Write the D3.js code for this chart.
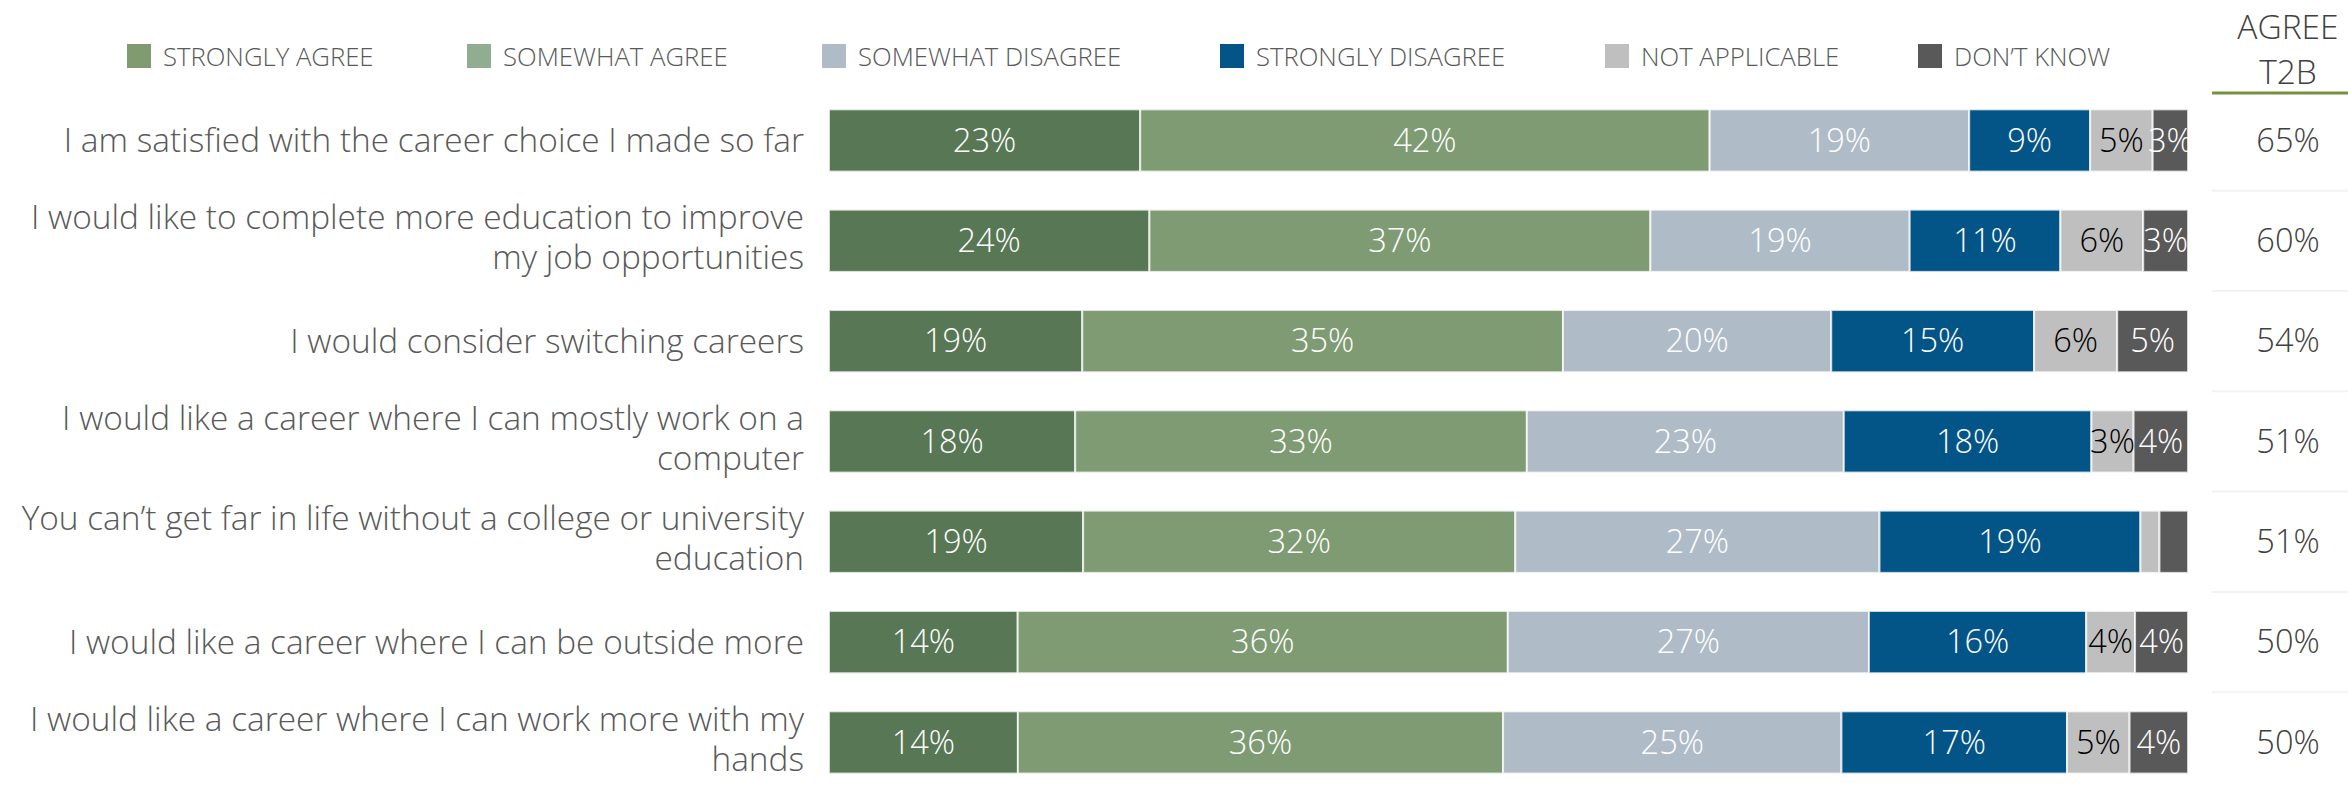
<!DOCTYPE html>
<html>
<head>
<meta charset="utf-8">
<script src="https://cdn.jsdelivr.net/npm/d3@7"></script>
<style>
  html, body { margin: 0; padding: 0; background: #ffffff; }
  svg { display: block; }
  text { font-family: 'Open Sans', 'Noto Sans', sans-serif; font-weight: 300; }
</style>
</head>
<body>
<svg id="chart" width="2348" height="785"></svg>
<script>
// ---------- data ----------
const categories = [
  "I am satisfied with the career choice I made so far",
  "I would like to complete more education to improve my job opportunities",
  "I would consider switching careers",
  "I would like a career where I can mostly work on a computer",
  "You can\u2019t get far in life without a college or university education",
  "I would like a career where I can be outside more",
  "I would like a career where I can work more with my hands"
];
const seriesNames = ["STRONGLY AGREE", "SOMEWHAT AGREE", "SOMEWHAT DISAGREE", "STRONGLY DISAGREE", "NOT APPLICABLE", "DON\u2019T KNOW"];
const stronglyAgree    = [22.9, 23.6, 18.6, 18.1, 18.7, 13.9, 13.9];
const somewhatAgree    = [41.9, 36.9, 35.3, 33.2, 31.8, 36.1, 35.7];
const somewhatDisagree = [19.1, 19.1, 19.7, 23.3, 26.8, 26.6, 24.9];
const stronglyDisagree = [8.9, 11.1, 14.9, 18.2, 19.2, 16.0, 16.6];
const notApplicable    = [4.6, 6.1, 6.1, 3.1, 1.4, 3.6, 4.6];
const dontKnow         = [2.6, 3.3, 5.2, 4.0, 2.1, 3.9, 4.3];
const agreeT2B         = [65, 60, 54, 51, 51, 50, 50];
const headerLines      = ["AGREE", "T2B"];

// ---------- styles / layout ----------
const barColors    = ["#587755", "#7f9b73", "#afbcc7", "#045587", "#bfbfbf", "#595959"];
const legendColors = ["#7f9b6f", "#90ad91", "#afbcc7", "#045587", "#bfbfbf", "#595959"];
const labelColors  = ["#ffffff", "#ffffff", "#ffffff", "#ffffff", "#000000", "#ffffff"];
const legendX      = [127, 467, 822, 1220, 1605, 1918];

const seriesValues = [stronglyAgree, somewhatAgree, somewhatDisagree, stronglyDisagree, notApplicable, dontKnow];
const rows = categories.map((c, i) => {
  const vals = seriesValues.map(s => s[i]);
  const total = d3.sum(vals);
  let acc = 0;
  return {
    cat: c,
    segs: vals.map((v, k) => { const s = { k, v, x0: acc / total, x1: (acc + v) / total }; acc += v; return s; })
  };
});

const svg = d3.select("#chart");

const x = d3.scaleLinear().domain([0, 1]).range([829, 2188]);
const y = d3.scaleBand().domain(categories).range([90.3, 792.6]).paddingInner(0.38).paddingOuter(0.19);

// ---------- legend ----------
const leg = svg.append("g").selectAll("g").data(seriesNames).join("g")
  .attr("transform", (d, i) => `translate(${legendX[i]},44)`);
leg.append("rect").attr("width", 24).attr("height", 24).attr("fill", (d, i) => legendColors[i]);
leg.append("text").attr("x", 36).attr("y", 13).attr("dy", "0.35em")
  .attr("font-size", 25.7).attr("fill", "#595959").text(d => d);

// ---------- header ----------
svg.append("g").selectAll("text").data(headerLines).join("text")
  .attr("x", 2288).attr("y", (d, i) => 27 + i * 45).attr("dy", "0.35em")
  .attr("text-anchor", "middle").attr("font-size", 33.5).attr("fill", "#404040").text(d => d);
svg.append("line").attr("x1", 2212).attr("x2", 2348).attr("y1", 93).attr("y2", 93)
  .attr("stroke", "#76923c").attr("stroke-width", 3);

// ---------- bars ----------
const rowG = svg.append("g").selectAll("g").data(rows).join("g");
rowG.selectAll("rect").data(r => r.segs.map(s => Object.assign({ cat: r.cat }, s))).join("rect")
  .attr("x", d => x(d.x0)).attr("width", d => x(d.x1) - x(d.x0))
  .attr("y", d => y(d.cat)).attr("height", y.bandwidth())
  .attr("fill", d => barColors[d.k])
  .attr("stroke", "#ffffff").attr("stroke-opacity", 0.75).attr("stroke-width", 2);
rowG.selectAll("text.val").data(r => r.segs.filter(s => s.v >= 2.5).map(s => Object.assign({ cat: r.cat }, s))).join("text")
  .attr("class", "val")
  .attr("x", d => (x(d.x0) + x(d.x1)) / 2)
  .attr("y", d => y(d.cat) + y.bandwidth() / 2).attr("dy", "0.35em")
  .attr("text-anchor", "middle").attr("font-size", 32.5)
  .attr("fill", d => labelColors[d.k])
  .text(d => Math.round(d.v) + "%");

// ---------- category labels ----------
const catG = svg.append("g").selectAll("text").data(categories).join("text")
  .attr("text-anchor", "end").attr("font-size", 33.4).attr("fill", "#595959");
const maxW = 805;
catG.each(function(c) {
  const t = d3.select(this);
  const words = c.split(" ");
  const lines = [];
  let cur = [];
  const probe = t.append("tspan");
  words.forEach(w => {
    const test = cur.concat([w]).join(" ");
    probe.text(test);
    if (probe.node().getComputedTextLength() > maxW && cur.length) { lines.push(cur.join(" ")); cur = [w]; }
    else cur.push(w);
  });
  lines.push(cur.join(" "));
  probe.remove();
  const cy = y(c) + y.bandwidth() / 2 - (lines.length > 1 ? 3 : 0);
  const lh = 40;
  lines.forEach((ln, j) => {
    t.append("tspan").attr("x", 804).attr("y", cy + (j - (lines.length - 1) / 2) * lh).attr("dy", "0.35em").text(ln);
  });
});

// ---------- T2B column ----------
svg.append("g").selectAll("line").data(categories.slice(1)).join("line")
  .attr("x1", 2212).attr("x2", 2348)
  .attr("y1", d => y(d) - y.step() * y.paddingInner() / 2)
  .attr("y2", d => y(d) - y.step() * y.paddingInner() / 2)
  .attr("stroke", "#f2f2f2").attr("stroke-width", 2);
svg.append("g").selectAll("text").data(agreeT2B).join("text")
  .attr("x", 2288).attr("y", (d, i) => y(categories[i]) + y.bandwidth() / 2).attr("dy", "0.35em")
  .attr("text-anchor", "middle").attr("font-size", 32.5).attr("fill", "#404040")
  .text(d => d + "%");
</script>
</body>
</html>
